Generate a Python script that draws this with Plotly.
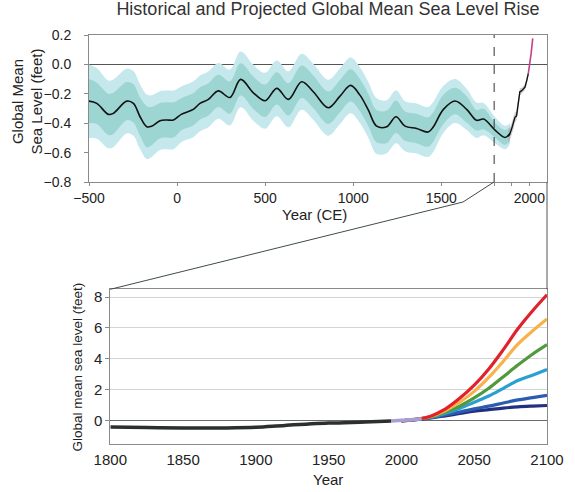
import plotly.graph_objects as go

# ---------------- data: top panel (reconstruction, -500 .. 1890) ----------------
hist_years = [-500, -456, -390, -362, -286, -248, -210, -172, -144, -97, -59, -21, 26, 92, 130,
              178, 234, 300, 361, 433, 500, 566, 632, 707, 773, 858, 925, 985, 1038, 1086,
              1133, 1190, 1243, 1294, 1360, 1426, 1455, 1512, 1578, 1644, 1700, 1740, 1805,
              1862, 1890]
hist_mean = [-0.25, -0.265, -0.34, -0.333, -0.25, -0.265, -0.356, -0.424, -0.42, -0.383, -0.378,
             -0.378, -0.338, -0.306, -0.265, -0.238, -0.18, -0.225, -0.102, -0.193, -0.247,
             -0.163, -0.238, -0.118, -0.186, -0.295, -0.216, -0.143, -0.209, -0.311, -0.42,
             -0.424, -0.356, -0.42, -0.436, -0.46, -0.424, -0.306, -0.249, -0.306, -0.38,
             -0.372, -0.447, -0.497, -0.47]
# half-widths of the outer (light) and inner (dark) uncertainty bands
outer_hw = [0.25, 0.24, 0.23, 0.23, 0.22, 0.22, 0.22, 0.22, 0.21, 0.20, 0.20, 0.20, 0.19, 0.19,
            0.19, 0.19, 0.19, 0.19, 0.19, 0.19, 0.19, 0.19, 0.19, 0.19, 0.19, 0.19, 0.19, 0.19,
            0.19, 0.19, 0.19, 0.18, 0.18, 0.17, 0.17, 0.17, 0.17, 0.16, 0.15, 0.14, 0.12, 0.11,
            0.09, 0.08, 0.07]
inner_hw = [0.15, 0.14, 0.14, 0.14, 0.13, 0.13, 0.13, 0.14, 0.13, 0.12, 0.12, 0.12, 0.11, 0.11,
            0.11, 0.11, 0.11, 0.11, 0.11, 0.11, 0.11, 0.11, 0.11, 0.11, 0.11, 0.11, 0.11, 0.11,
            0.11, 0.11, 0.11, 0.11, 0.11, 0.10, 0.10, 0.10, 0.10, 0.10, 0.09, 0.09, 0.07, 0.07,
            0.05, 0.05, 0.04]

# tide-gauge era (grey band + jagged black line)
tg_years = [1880, 1890, 1900, 1910, 1918, 1927, 1937, 1946, 1955, 1965, 1975, 1985, 1994]
tg_vals = [-0.49, -0.47, -0.435, -0.40, -0.36, -0.35, -0.27, -0.186, -0.18, -0.17, -0.155, -0.11, -0.061]
tg_hw = [0.05, 0.045, 0.04, 0.04, 0.035, 0.03, 0.03, 0.025, 0.02, 0.02, 0.02, 0.015, 0.015]

# satellite era (magenta)
sat_years = [1994, 2003, 2010, 2019]
sat_vals = [-0.061, 0.0, 0.075, 0.177]

# ---------------- data: bottom panel (1800 .. 2100) ----------------
obs_years = [1800, 1825, 1850, 1880, 1900, 1920, 1950, 1975, 1993]
obs_vals = [-0.40, -0.44, -0.46, -0.46, -0.42, -0.30, -0.15, -0.08, -0.02]
recent_years = [1993, 2000, 2008, 2014]
recent_vals = [-0.02, 0.03, 0.08, 0.13]

proj_years = [2000, 2010, 2020, 2030, 2040, 2050, 2060, 2070, 2080, 2090, 2100]
proj_navy = [0.0, 0.07, 0.18, 0.32, 0.47, 0.62, 0.72, 0.82, 0.90, 0.95, 0.99]
proj_blue = [0.0, 0.08, 0.20, 0.38, 0.57, 0.77, 0.95, 1.15, 1.35, 1.50, 1.65]
proj_cyan = [0.0, 0.10, 0.23, 0.48, 0.80, 1.20, 1.60, 2.10, 2.60, 2.95, 3.31]
proj_green = [0.0, 0.10, 0.25, 0.55, 0.95, 1.48, 2.10, 2.85, 3.60, 4.30, 4.92]
proj_orange = [0.0, 0.10, 0.28, 0.65, 1.20, 1.90, 2.80, 3.85, 4.95, 5.80, 6.58]
proj_red = [0.0, 0.10, 0.30, 0.75, 1.45, 2.30, 3.35, 4.60, 5.95, 7.10, 8.15]

top_xticks = [-500, 0, 500, 1000, 1500, 1800, 1900, 2000]
top_xlabels = ["\u2212500", "0", "500", "1000", "1500", "", "", "2000"]
top_yticks = [-0.8, -0.6, -0.4, -0.2, 0.0, 0.2]
bot_xticks = [1800, 1850, 1900, 1950, 2000, 2050, 2100]
bot_yticks = [0, 2, 4, 6, 8]

# ---------------- figure ----------------
W, H = 575, 492
LIGHT = "#c4e8ec"
DARK = "#9dd5d3"
FONT = "Liberation Sans, Arial, sans-serif"

fig = go.Figure()


def band(xs, mid, hw, color, xa="x", ya="y", shape="spline"):
    lo = [m - h for m, h in zip(mid, hw)]
    hi = [m + h for m, h in zip(mid, hw)]
    fig.add_trace(go.Scatter(x=xs, y=lo, mode="lines", line=dict(width=0, shape=shape, color=color),
                             xaxis=xa, yaxis=ya, hoverinfo="skip", showlegend=False))
    fig.add_trace(go.Scatter(x=xs, y=hi, mode="lines", line=dict(width=0, shape=shape, color=color),
                             fill="tonexty", fillcolor=color, xaxis=xa, yaxis=ya,
                             hoverinfo="skip", showlegend=False))


band(hist_years, hist_mean, outer_hw, LIGHT)
band(hist_years, hist_mean, inner_hw, DARK)
band(tg_years, tg_vals, tg_hw, "rgba(170,170,170,0.55)", shape="linear")
fig.add_trace(go.Scatter(x=hist_years, y=hist_mean, mode="lines",
                         line=dict(color="#111111", width=1.6, shape="spline"), showlegend=False))
fig.add_trace(go.Scatter(x=tg_years, y=tg_vals, mode="lines",
                         line=dict(color="#111111", width=1.4), showlegend=False))
fig.add_trace(go.Scatter(x=sat_years, y=sat_vals, mode="lines",
                         line=dict(color="#c2408e", width=1.6), showlegend=False))

# bottom panel
fig.add_trace(go.Scatter(x=obs_years, y=obs_vals, mode="lines", xaxis="x2", yaxis="y2",
                         line=dict(color="#2b2f2f", width=3.5, shape="spline"), showlegend=False))
for vals, col in [(proj_navy, "#23307e"), (proj_blue, "#2b5cb0"), (proj_cyan, "#2aa0d2"),
                  (proj_green, "#4f9a3c"), (proj_orange, "#f9b14c"), (proj_red, "#e2222a")]:
    fig.add_trace(go.Scatter(x=proj_years, y=vals, mode="lines", xaxis="x2", yaxis="y2",
                             line=dict(color=col, width=3.2, shape="spline"), showlegend=False))
fig.add_trace(go.Scatter(x=recent_years, y=recent_vals, mode="lines", xaxis="x2", yaxis="y2",
                         line=dict(color="#a79fd2", width=3.5, shape="spline"), showlegend=False))


def px(x):
    return x / W


def py(y):
    return 1 - y / H


AX = "#8a8a8a"
fig.update_layout(
    width=W, height=H, margin=dict(l=0, r=0, t=0, b=0),
    paper_bgcolor="white", plot_bgcolor="white",
    font=dict(family=FONT, color="#222222"),
    hovermode=False,
    title=dict(text="Historical and Projected Global Mean Sea Level Rise",
               x=px(328), y=py(9), xanchor="center", yanchor="middle",
               font=dict(family=FONT, size=18, color="#333333")),
    xaxis=dict(domain=[px(89), px(547)], range=[-500, 2100], anchor="y",
               tickvals=top_xticks, ticktext=top_xlabels, ticks="outside", ticklen=3,
               tickcolor=AX, showline=True, linecolor=AX, mirror=True, showgrid=False,
               zeroline=False, tickfont=dict(size=14), automargin=False),
    yaxis=dict(domain=[py(182), py(35)], range=[-0.8, 0.2], anchor="x",
               tickvals=top_yticks, tickformat=".1f", ticks="outside", ticklen=4, tickcolor=AX,
               showline=True, linecolor=AX, mirror=True, showgrid=False,
               zeroline=True, zerolinecolor="#555555", zerolinewidth=1,
               tickfont=dict(size=14), ticklabelstandoff=10, automargin=False),
    xaxis2=dict(domain=[px(110.3), px(547)], range=[1800, 2100], anchor="y2",
                tickvals=bot_xticks, ticks="", showline=True, linecolor=AX, mirror=True,
                showgrid=False, zeroline=False, tickfont=dict(size=15),
                ticklabelstandoff=2, automargin=False),
    yaxis2=dict(domain=[py(444), py(289.3)], range=[-1.5, 8.5], anchor="x2",
                tickvals=bot_yticks, ticks="outside", ticklen=4, tickcolor=AX,
                showline=True, linecolor=AX, mirror=True, showgrid=True, gridcolor="#d4d4d4",
                zeroline=True, zerolinecolor="#6a6a6a", zerolinewidth=1.2,
                tickfont=dict(size=15), automargin=False),
)

# axis titles as annotations
fig.add_annotation(text="Year (CE)", x=px(315), y=py(214), xref="paper", yref="paper",
                   showarrow=False, font=dict(size=15), xanchor="center", yanchor="middle")
fig.add_annotation(text="Year", x=px(328), y=py(479), xref="paper", yref="paper",
                   showarrow=False, font=dict(size=15), xanchor="center", yanchor="middle")
fig.add_annotation(text="Global Mean<br>Sea Level (feet)", x=px(27), y=py(101.5), xref="paper",
                   yref="paper", showarrow=False, textangle=-90, font=dict(size=15),
                   xanchor="center", yanchor="middle")
fig.add_annotation(text="Global mean sea level (feet)", x=px(77), y=py(366.5), xref="paper",
                   yref="paper", showarrow=False, textangle=-90, font=dict(size=13.5),
                   xanchor="center", yanchor="middle")

# dashed marker at 1800 in the top panel
fig.add_shape(type="line", xref="x", yref="y", x0=1800, x1=1800, y0=-0.8, y1=0.2,
              line=dict(color="#333333", width=1, dash="dash"))
# zoom connector lines
fig.add_shape(type="path", xref="paper", yref="paper",
              path=f"M {px(494)} {py(182)} L {px(463)} {py(202)} L {px(110.3)} {py(289.3)}",
              line=dict(color="#3f4d46", width=1))
fig.add_shape(type="line", xref="paper", yref="paper", x0=px(547), x1=px(547),
              y0=py(182), y1=py(289.3), line=dict(color="#555555", width=1))

# place the figure flush with the page's top-left corner; no mode bar
fig.write_html("out.html", config={"displayModeBar": False},
               post_script="document.body.style.margin='0';document.body.style.padding='0';")
